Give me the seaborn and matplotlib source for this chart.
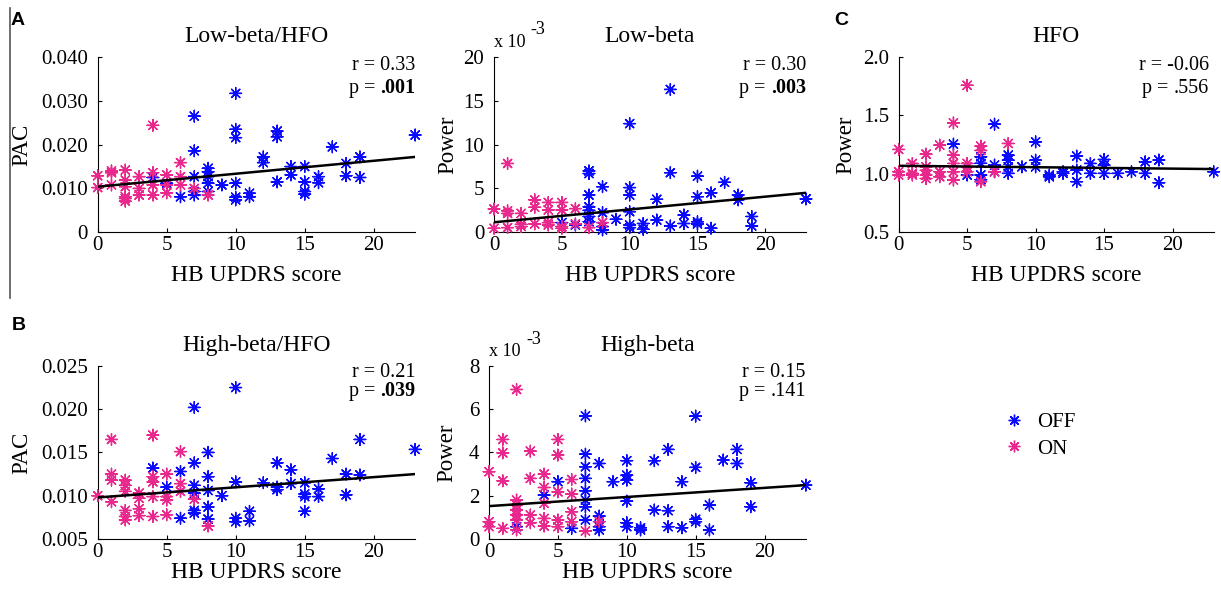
import pandas as pd
import seaborn as sns
import matplotlib.pyplot as plt

# ---- data (HB UPDRS score vs measure) ----
# A, left: Low-beta/HFO PAC
a1_off_x = [23, 10, 7, 7, 10, 10, 13, 13, 17, 12, 12, 19, 19, 18, 18, 14, 14, 15, 15, 15, 15,
            16, 16, 13, 10, 10, 10, 11, 11, 9, 8, 8, 8, 8, 8, 7, 7, 7, 6, 4, 5]
a1_off_y = [0.0222, 0.0317, 0.0265, 0.0186, 0.0235, 0.0216, 0.0231, 0.0218, 0.0195, 0.0172, 0.0159,
            0.0172, 0.0125, 0.0157, 0.0129, 0.0150, 0.0131, 0.0150, 0.0115, 0.0093, 0.0087,
            0.0127, 0.0113, 0.0115, 0.0112, 0.0080, 0.0074, 0.0089, 0.0081, 0.0108,
            0.0146, 0.0138, 0.0112, 0.0127, 0.0093, 0.0127, 0.0085, 0.0093, 0.0081, 0.0125, 0.0112]
a1_on_x = [4, 6, 6, 6, 0, 0, 1, 1, 1, 2, 2, 2, 2, 2, 2, 3, 3, 3, 4, 4, 4, 5, 5, 5, 7, 8]
a1_on_y = [0.0244, 0.0159, 0.0127, 0.0108, 0.0129, 0.0102, 0.0140, 0.0136, 0.0108,
           0.0142, 0.0119, 0.0104, 0.0077, 0.0071, 0.0081, 0.0127, 0.0100, 0.0085,
           0.0136, 0.0108, 0.0085, 0.0131, 0.0108, 0.0090, 0.0100, 0.0085]

# A, middle: Low-beta power (x 10^-3)
a2_off_x = [23, 13, 10, 7, 7, 13, 15, 17, 8, 10, 10, 16, 7, 18, 18, 15, 12, 7, 7, 10, 8, 14,
            19, 19, 9, 12, 15, 15, 14, 13, 10, 10, 11, 11, 16, 7, 7, 8, 8, 5, 6]
a2_off_y = [3.8, 16.3, 12.4, 7.0, 6.7, 6.8, 6.4, 5.7, 5.2, 5.1, 4.25, 4.5, 4.25, 4.25, 3.7, 4.06,
            3.76, 2.9, 2.5, 2.35, 2.24, 1.97, 1.8, 0.72, 1.48, 1.4, 1.2, 0.95, 1.0, 0.72,
            0.83, 0.53, 1.0, 0.34, 0.46, 1.8, 1.2, 0.65, 0.27, 1.1, 0.83]
a2_on_x = [1, 3, 3, 4, 4, 5, 5, 6, 0, 1, 1, 2, 0, 1, 2, 2, 3, 4, 4, 5, 5, 6, 7, 8]
a2_on_y = [7.85, 3.7, 2.85, 3.4, 2.55, 3.4, 2.55, 2.7, 2.65, 2.45, 2.15, 2.15, 0.45, 0.53,
           0.9, 0.65, 0.95, 1.1, 0.83, 0.65, 0.45, 0.95, 0.53, 1.1]

# C: HFO power
c_off_x = [23, 7, 10, 4, 13, 13, 13, 15, 15, 15, 19, 19, 18, 18, 14, 14, 6, 6, 6, 6,
           8, 8, 8, 8, 7, 7, 9, 10, 10, 11, 11, 12, 12, 16, 17, 5]
c_off_y = [1.018, 1.425, 1.274, 1.254, 1.152, 1.032, 0.933, 1.123, 1.075, 1.004, 1.118, 0.924,
           1.103, 1.004, 1.089, 1.004, 1.146, 1.09, 0.99, 0.95, 1.16, 1.117, 1.06, 1.004,
           1.075, 1.018, 1.06, 1.117, 1.06, 0.99, 0.975, 1.018, 1.004, 1.004, 1.018, 0.99]
c_on_x = [5, 4, 8, 0, 3, 6, 6, 2, 4, 4, 1, 5, 0, 0, 1, 1, 2, 2, 2, 2, 3, 3, 4, 4, 5, 5, 6, 7]
c_on_y = [1.758, 1.436, 1.26, 1.209, 1.246, 1.237, 1.2, 1.169, 1.16, 1.089, 1.089, 1.089,
          1.018, 0.99, 1.004, 0.99, 1.06, 1.03, 0.99, 0.96, 1.018, 0.975, 1.018, 0.947,
          1.06, 1.018, 0.933, 1.018]

# B, left: High-beta/HFO PAC
b1_off_x = [23, 10, 7, 19, 19, 17, 8, 8, 8, 8, 8, 7, 7, 7, 7, 7, 13, 13, 13, 14, 14, 6, 6, 4,
            18, 18, 10, 10, 10, 12, 15, 15, 15, 15, 16, 16, 9, 11, 11, 5]
b1_off_y = [0.01535, 0.0225, 0.0202, 0.0165, 0.0124, 0.0143, 0.0150, 0.0122, 0.0106, 0.0087,
            0.0073, 0.0138, 0.0112, 0.0083, 0.0080, 0.0103, 0.0138, 0.0110, 0.0107, 0.0130,
            0.0114, 0.0128, 0.0074, 0.0132, 0.0125, 0.0101, 0.0116, 0.0074, 0.0070, 0.0115,
            0.0115, 0.0102, 0.0099, 0.0082, 0.0108, 0.0099, 0.0100, 0.0082, 0.0071, 0.0110]
b1_on_x = [1, 4, 6, 1, 1, 1, 2, 2, 2, 2, 2, 2, 3, 3, 3, 3, 4, 4, 4, 4, 5, 5, 5, 5, 6, 6, 0, 7, 8]
b1_on_y = [0.0165, 0.0170, 0.0151, 0.0125, 0.0118, 0.0093, 0.0118, 0.0112, 0.0105, 0.0083,
           0.0076, 0.0072, 0.0103, 0.0097, 0.0077, 0.0085, 0.0122, 0.0116, 0.0099, 0.0076,
           0.0125, 0.0099, 0.0095, 0.0078, 0.0114, 0.0105, 0.0100, 0.0096, 0.0065]

# B, middle: High-beta power (x 10^-3)
b2_off_x = [23, 7, 7, 7, 7, 7, 7, 7, 7, 15, 15, 15, 15, 13, 13, 13, 18, 18, 17, 8, 8, 8, 8,
            10, 10, 10, 10, 10, 10, 12, 12, 9, 14, 14, 19, 19, 16, 16, 11, 11, 5, 4, 2, 6]
b2_off_y = [2.49, 5.69, 3.92, 3.34, 2.8, 2.23, 1.8, 1.49, 0.88, 5.68, 3.31, 0.91, 0.8, 4.14,
            1.31, 0.57, 4.14, 3.49, 3.65, 3.49, 1.06, 0.57, 0.42, 3.62, 2.95, 2.72, 1.75,
            0.75, 0.57, 3.62, 1.34, 2.65, 2.65, 0.52, 2.6, 1.49, 1.57, 0.42, 0.52, 0.42,
            2.65, 2.03, 0.57, 0.49]
b2_on_x = [2, 1, 1, 1, 1, 5, 5, 5, 5, 5, 3, 3, 3, 3, 0, 0, 0, 4, 4, 4, 4, 4, 6, 6, 6, 6,
           2, 2, 2, 2, 2, 2, 7, 8]
b2_on_y = [6.91, 4.6, 3.98, 2.69, 0.49, 4.6, 3.88, 2.18, 0.88, 0.57, 4.06, 2.8, 1.11, 0.75,
           3.11, 0.8, 0.57, 3.0, 2.38, 1.65, 0.95, 0.6, 2.75, 2.08, 1.26, 0.8,
           1.8, 1.57, 1.34, 1.11, 0.88, 0.42, 0.37, 0.8]

# fitted lines (value at score 0 and at score 23)
fit_x = [0, 23]
a1_fit = [0.0104, 0.0172]
a2_fit = [1.14, 4.5]
c_fit = [1.069, 1.041]
b1_fit = [0.0098, 0.0125]
b2_fit = [1.52, 2.49]

stats = {
    'a1': ('0.33', '.001', True),
    'a2': ('0.30', '.003', True),
    'c': ('-0.06', '.556', False),
    'b1': ('0.21', '.039', True),
    'b2': ('0.15', '.141', False),
}

palette = {'OFF': '#0a0aff', 'ON': '#e8288c'}
star = (8, 2, 0)   # matlab style asterisk


def make_df(off_x, off_y, on_x, on_y):
    off = pd.DataFrame({'score': off_x, 'value': off_y, 'state': 'OFF'})
    on = pd.DataFrame({'score': on_x, 'value': on_y, 'state': 'ON'})
    return pd.concat([off, on], ignore_index=True)


plt.rcParams['font.family'] = ['Liberation Serif', 'DejaVu Serif']

fig = plt.figure(figsize=(12.21, 5.94), dpi=100)

# key, [left, bottom, width, height], title, ylabel, ylim, yticks, ticklabels, ylabel x, x10^-3?
panels = [
    ('a1', [0.080, 0.609, 0.260, 0.295], 'Low-beta/HFO', 'PAC', (0, 0.040),
     [0, 0.01, 0.02, 0.03, 0.04], ['0', '0.010', '0.020', '0.030', '0.040'], -0.205, False,
     make_df(a1_off_x, a1_off_y, a1_on_x, a1_on_y), a1_fit),
    ('a2', [0.4046, 0.609, 0.2555, 0.295], 'Low-beta', 'Power', (0, 20),
     [0, 5, 10, 15, 20], ['0', '5', '10', '15', '20'], -0.115, True,
     make_df(a2_off_x, a2_off_y, a2_on_x, a2_on_y), a2_fit),
    ('c', [0.736, 0.609, 0.258, 0.295], 'HFO', 'Power', (0.5, 2.0),
     [0.5, 1.0, 1.5, 2.0], ['0.5', '1.0', '1.5', '2.0'], -0.135, False,
     make_df(c_off_x, c_off_y, c_on_x, c_on_y), c_fit),
    ('b1', [0.080, 0.0926, 0.260, 0.2914], 'High-beta/HFO', 'PAC', (0.005, 0.025),
     [0.005, 0.01, 0.015, 0.02, 0.025], ['0.005', '0.010', '0.015', '0.020', '0.025'], -0.205, False,
     make_df(b1_off_x, b1_off_y, b1_on_x, b1_on_y), b1_fit),
    ('b2', [0.4005, 0.0926, 0.2595, 0.2914], 'High-beta', 'Power', (0, 8),
     [0, 2, 4, 6, 8], ['0', '2', '4', '6', '8'], -0.1, True,
     make_df(b2_off_x, b2_off_y, b2_on_x, b2_on_y), b2_fit),
]

axes = {}
for key, rect, title, ylab, ylim, yt, ytl, ylab_x, scaled, df, fit in panels:
    ax = fig.add_axes(rect)
    axes[key] = ax
    sns.scatterplot(data=df, x='score', y='value', hue='state', palette=palette,
                    hue_order=['OFF', 'ON'], marker=star, s=70, linewidth=1.0,
                    legend=(key == 'c'), ax=ax, clip_on=False, zorder=3)
    sns.lineplot(x=fit_x, y=fit, color='black', linewidth=1.8, ax=ax, zorder=4)
    ax.set_xlim(0, 23)
    ax.set_ylim(*ylim)
    ax.set_xticks([0, 5, 10, 15, 20])
    ax.set_yticks(yt)
    ax.set_yticklabels(ytl)
    ax.tick_params(direction='in', length=3, width=0.8, labelsize=15, pad=3)
    ax.tick_params(axis='y', pad=7)
    for side in ['top', 'right']:
        ax.spines[side].set_visible(False)
    ax.set_title(title, fontsize=17, pad=11)
    ax.set_ylabel(ylab, fontsize=16.5)
    ax.set_xlabel('HB UPDRS score', fontsize=17)
    ax.yaxis.set_label_coords(ylab_x, 0.5)
    top_row = key in ('a1', 'a2', 'c')
    ax.xaxis.set_label_coords(0.5, -0.185 if top_row else -0.135)

    r, p, sig = stats[key]
    rx = 0.985 if key == 'c' else 1.0
    ry, py = (0.926, 0.795) if top_row else (0.935, 0.825)
    ax.text(rx, ry, 'r = ' + r, transform=ax.transAxes, ha='right', va='baseline', fontsize=14.5)
    pv = ax.text(rx, py, p, transform=ax.transAxes, ha='right', va='baseline', fontsize=14.5,
                 fontweight='bold' if sig else 'normal')
    ax.annotate('p = ', xy=(0, 0), xycoords=pv, ha='right', va='bottom', fontsize=14.5)

    if scaled:
        by = 1.06 if top_row else 1.055
        ax.text(0.0, by, 'x 10', transform=ax.transAxes, ha='left', va='baseline', fontsize=13)
        ax.text(0.118, by + 0.07, '-3', transform=ax.transAxes, ha='left', va='baseline', fontsize=13)

# legend moved to the empty area under panel C
sns.move_legend(axes['c'], loc='upper left', bbox_to_anchor=(0.24, -0.92), frameon=False,
                title=None, fontsize=15, handletextpad=0.1, labelspacing=0.35)

# panel letters and the separator line on the left
fig.text(0.009, 0.979, 'A', fontsize=14, fontweight='bold', family='Liberation Sans', va='top')
fig.text(0.010, 0.466, 'B', fontsize=14, fontweight='bold', family='Liberation Sans', va='top')
fig.text(0.683, 0.979, 'C', fontsize=14, fontweight='bold', family='Liberation Sans', va='top')
fig.add_artist(plt.Line2D([0.0078, 0.0078], [0.987, 0.498], color='#555555', linewidth=1.2))

fig.savefig('out.png', dpi=100)
